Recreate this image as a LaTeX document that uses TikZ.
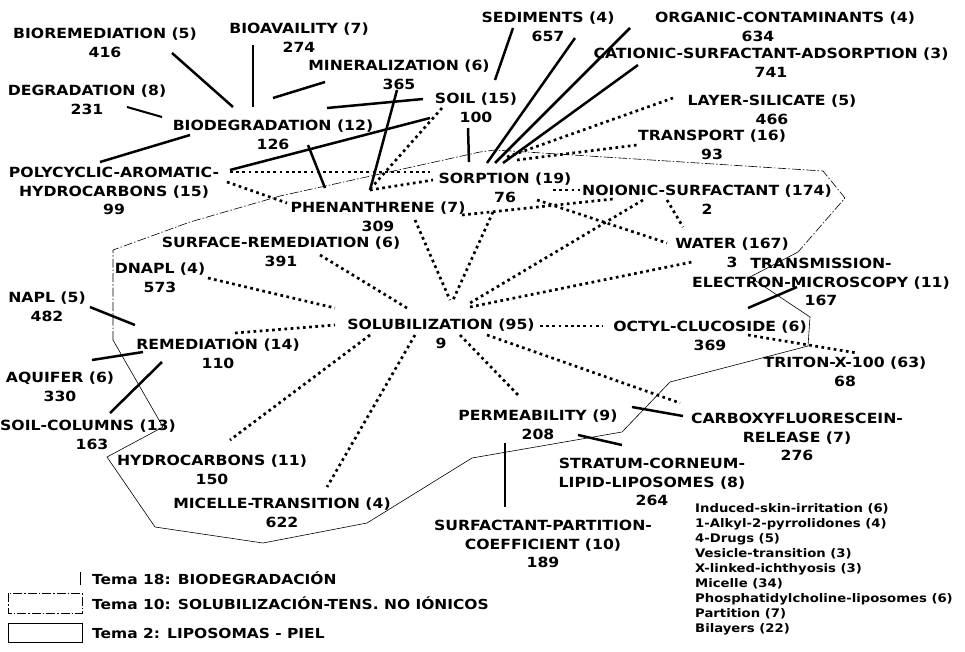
\documentclass[tikz,border=0pt]{standalone}
\usepackage{fontspec}
\setmainfont{DejaVu Sans}[FakeStretch=1.12]
\begin{document}
\begin{tikzpicture}[x=1pt,y=-1pt]
\tikzset{
 lab/.style={font=\fontsize{14}{18.5}\selectfont\bfseries, align=center, anchor=north, inner sep=0pt},
 leg/.style={font=\fontsize{13.8}{16}\selectfont\bfseries, anchor=west, inner sep=0pt},
 thk/.style={line width=2.5pt},
 dts/.style={line width=2.7pt, dash pattern=on 2.7pt off 3.5pt},
 hull/.style={line width=0.6pt},
 hulldash/.style={line width=0.6pt, dash pattern=on 9pt off 2pt on 1.5pt off 2pt},
}
\useasboundingbox (0,0) rectangle (965,651);
\fill[white] (0,0) rectangle (965,651);

% theme outline
\draw[hulldash] (113,340) -- (113,250) -- (190,222) -- (280,196) -- (480,152) -- (495,150) -- (823,171) -- (845,198) -- (798,252);
\draw[hull] (798,252) -- (750,277) -- (810,317) -- (808,346) -- (670,382) -- (622,432) -- (472,458) -- (367,523) -- (263,543) -- (155,527) -- (107,457) -- (163,427) -- (113,340);

% labels
\node[lab] (bior) at (105,28) {BIOREMEDIATION (5)\\416};
\node[lab] (bioav) at (299,23) {BIOAVAILITY (7)\\274};
\node[lab] (miner) at (399,60) {MINERALIZATION (6)\\365};
\node[lab] (degr) at (87,85) {DEGRADATION (8)\\231};
\node[lab] (biodeg) at (273,120) {BIODEGRADATION (12)\\126};
\node[lab] (soil) at (476,93) {SOIL (15)\\100};
\node[lab] (sedim) at (548,12) {SEDIMENTS (4)\\657};
\node[lab] (orgc) at (785,12) {ORGANIC-CONTAMINANTS (4)\\634\kern54pt};
\node[lab] (cation) at (771,48) {CATIONIC-SURFACTANT-ADSORPTION (3)\\741};
\node[lab] (layer) at (772,95) {LAYER-SILICATE (5)\\466};
\node[lab] (transp) at (712,130) {TRANSPORT (16)\\93};
\node[lab] (sorp) at (505,173) {SORPTION (19)\\76};
\node[lab] (noion) at (707,185) {NOIONIC-SURFACTANT (174)\\2};
\node[lab] (polyc) at (114,167) {POLYCYCLIC-AROMATIC-\\HYDROCARBONS (15)\\99};
\node[lab] (phen) at (378,202) {PHENANTHRENE (7)\\309};
\node[lab] (surfrem) at (281,237) {SURFACE-REMEDIATION (6)\\391};
\node[lab] (dnapl) at (160,263) {DNAPL (4)\\573};
\node[lab] (napl) at (47,292) {NAPL (5)\\482};
\node[lab] (remed) at (218,339) {REMEDIATION (14)\\110};
\node[lab] (aquif) at (60,372) {AQUIFER (6)\\330};
\node[lab] (soilcol) at (88,420) {SOIL-COLUMNS (13)\\\kern8pt163};
\node[lab] (solub) at (441,319) {SOLUBILIZATION (95)\\9};
\node[lab] (octyl) at (710,321) {OCTYL-CLUCOSIDE (6)\\369};
\node[lab] (water) at (732,238) {WATER (167)\\3};
\node[lab] (tem) at (821,258) {TRANSMISSION-\\ELECTRON-MICROSCOPY (11)\\167};
\node[lab] (triton) at (845,357) {TRITON-X-100 (63)\\68};
\node[lab] (perm) at (538,410) {PERMEABILITY (9)\\208};
\node[lab] (carbox) at (797,413) {CARBOXYFLUORESCEIN-\\RELEASE (7)\\276};
\node[lab] (strat) at (652,458) {STRATUM-CORNEUM-\\LIPID-LIPOSOMES (8)\\264};
\node[lab] (surfpart) at (543,520) {SURFACTANT-PARTITION-\\COEFFICIENT (10)\\189};
\node[lab] (hydroc) at (212,455) {HYDROCARBONS (11)\\150};
\node[lab] (micel) at (282,498) {MICELLE-TRANSITION (4)\\622};

\node[font=\fontsize{11.8}{15}\selectfont\bfseries, align=left, anchor=north west, inner sep=0pt] (extra) at (695,503)
 {Induced-skin-irritation (6)\\1-Alkyl-2-pyrrolidones (4)\\4-Drugs (5)\\Vesicle-transition (3)\\X-linked-ichthyosis (3)\\Micelle (34)\\Phosphatidylcholine-liposomes (6)\\Partition (7)\\Bilayers (22)};

% connector ends
\foreach \n/\a/\b in {a1/172/53, a2/233/107, b1/253/45, b2/253/107, c1/325/82, c2/273/98,
 d1/127/107, d2/162/117, e1/190/135, e2/100/162, f1/327/108, f2/423/99,
 g1/397/90, g2/370/190, h1/230/170, h2/430/118, i1/308/145, i2/325/188,
 j1/468/128, j2/469/162, k1/513/28, k2/495/80, l1/575/38, l2/487/163,
 m1/630/28, m2/495/163, n1/638/65, n2/503/163, ll1/90/307, ll2/135/325,
 mm1/92/360, mm2/143/352, nn1/110/413, nn2/162/362, oo1/748/308, oo2/797/287,
 pp1/632/407, pp2/683/416, qq1/578/435, qq2/622/445, rr1/505/443, rr2/505/507,
 o1/507/157, o2/673/98, p1/517/160, p2/637/145, q1/442/108, q2/372/187,
 r1/230/172, r2/430/172, s1/227/182, s2/287/203, t1/370/190, t2/433/180,
 u1/553/190, u2/580/190, v1/462/215, v2/613/199, w1/537/200, w2/667/243,
 x1/643/200, x2/470/303, y1/667/200, y2/683/227, z1/493/212, z2/453/300,
 aa1/415/220, aa2/450/300, bb1/320/255, bb2/407/308, cc1/208/278, cc2/335/308,
 dd1/235/333, dd2/335/325, ee1/370/335, ee2/230/440, ff1/415/335, ff2/327/487,
 gg1/470/307, gg2/692/262, hh1/540/326, hh2/603/326, ii1/460/335, ii2/520/397,
 jj1/487/335, jj2/680/403, kk1/748/335, kk2/857/353}
 \coordinate (\n) at (\a,\b);

% thick connectors
\foreach \p/\q in {a1/a2, b1/b2, c1/c2, e1/e2, f1/f2, g1/g2, h1/h2, i1/i2, j1/j2,
 k1/k2, l1/l2, m1/m2, n1/n2, ll1/ll2, mm1/mm2, nn1/nn2, oo1/oo2, pp1/pp2, qq1/qq2, rr1/rr2}
 \draw[thk] (\p) -- (\q);
\draw[line width=2pt] (d1) -- (d2);

% dotted connectors
\foreach \p/\q in {o1/o2, p1/p2, q1/q2, r1/r2, s1/s2, t1/t2, u1/u2, v1/v2, w1/w2, x1/x2,
 y1/y2, z1/z2, aa1/aa2, bb1/bb2, cc1/cc2, dd1/dd2, ee1/ee2, ff1/ff2, gg1/gg2, hh1/hh2,
 ii1/ii2, jj1/jj2, kk1/kk2}
 \draw[dts] (\p) -- (\q);

% legend
\draw[line width=0.8pt] (80,572) -- (80,585);
\draw[hulldash] (8,593) rectangle (82,613);
\draw[hull] (8,623) rectangle (82,642);
\node[leg] (leg18) at (92,578) {Tema 18: BIODEGRADACIÓN};
\node[leg] (leg10) at (92,603) {Tema 10: SOLUBILIZACIÓN-TENS. NO IÓNICOS};
\node[leg] (leg2) at (92,633) {Tema 2: LIPOSOMAS - PIEL};
\end{tikzpicture}
\end{document}
